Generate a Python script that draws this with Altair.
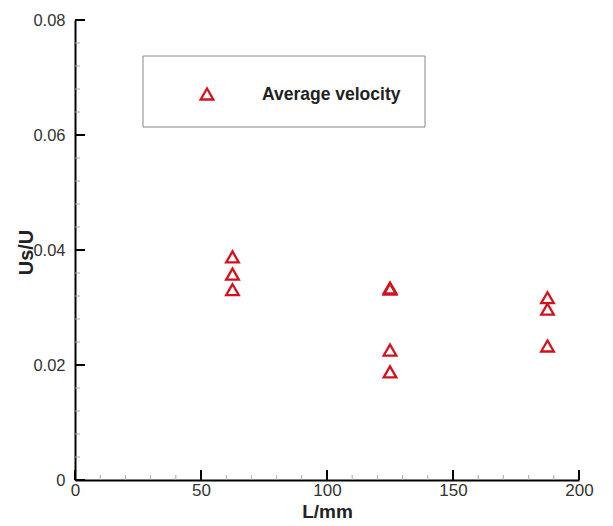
import altair as alt
import pandas as pd

# Measured average velocity ratio at three distances
L_mm = [62.5, 62.5, 62.5, 125, 125, 125, 125, 187.5, 187.5, 187.5]
us_u = [0.0388, 0.0358, 0.0331, 0.0334, 0.0332, 0.0226, 0.0188, 0.0317, 0.0297, 0.0233]

# Axis tick positions
x_major = [0, 50, 100, 150, 200]
x_minor = [v for v in range(0, 201, 10) if v % 50 != 0]
y_major = [0, 0.02, 0.04, 0.06, 0.08]
y_minor = [round(i * 0.004, 3) for i in range(21) if i % 5 != 0]

RED = "#d4121e"
FONT = "Liberation Sans"
W, H = 504, 460

df = pd.DataFrame({"L": L_mm, "U": us_u})
xs = alt.Scale(domain=[0, 200], nice=False, zero=False)
ys = alt.Scale(domain=[0, 0.08], nice=False, zero=False)

x_axis = alt.Axis(values=x_major, ticks=False, grid=False, domainColor="black",
                  domainWidth=2, labelFont=FONT, labelFontSize=17, labelColor="#333",
                  labelPadding=2, labelFlush=False, title="L/mm", titleFont=FONT,
                  titleFontSize=19, titleFontWeight="bold", titleColor="#222",
                  titlePadding=4)
y_axis = alt.Axis(values=y_major, ticks=False, grid=False, domainColor="black",
                  domainWidth=2, labelFont=FONT, labelFontSize=16.5, labelColor="#333",
                  labelPadding=10, labelFlush=False, format="~g", labelBaseline="middle",
                  title="Us/U", titleFont=FONT, titleFontSize=20, titleFontWeight="bold",
                  titleColor="#222", titleX=-49, titleY=232, titleBaseline="middle")

points = alt.Chart(df).mark_point(shape="triangle-up", filled=False, color=RED,
                                  opacity=1, strokeWidth=2.3, size=160).encode(
    x=alt.X("L:Q", scale=xs, axis=x_axis),
    y=alt.Y("U:Q", scale=ys, axis=y_axis),
)

# Inward-pointing ticks
xmaj = alt.Chart(pd.DataFrame({"v": x_major})).mark_rule(color="black", strokeWidth=2).encode(
    x=alt.X("v:Q", scale=xs), y=alt.value(H), y2=alt.value(H - 10))
xmin = alt.Chart(pd.DataFrame({"v": x_minor})).mark_rule(color="#aaa", strokeWidth=1).encode(
    x=alt.X("v:Q", scale=xs), y=alt.value(H), y2=alt.value(H - 5))
ymaj = alt.Chart(pd.DataFrame({"v": y_major})).mark_rule(color="black", strokeWidth=2).encode(
    y=alt.Y("v:Q", scale=ys), x=alt.value(0), x2=alt.value(10))
ymin = alt.Chart(pd.DataFrame({"v": y_minor})).mark_rule(color="#aaa", strokeWidth=1).encode(
    y=alt.Y("v:Q", scale=ys), x=alt.value(0), x2=alt.value(5))

# Legend box
legend_box = alt.Chart(pd.DataFrame({"a": [0]})).mark_rect(
    fill="white", stroke="#888", strokeWidth=1).encode(
    x=alt.value(68), x2=alt.value(350), y=alt.value(36), y2=alt.value(107))
legend_sym = alt.Chart(pd.DataFrame({"a": [0]})).mark_point(
    shape="triangle-up", filled=False, color=RED, opacity=1, strokeWidth=2.3,
    size=160).encode(x=alt.value(132), y=alt.value(74))
legend_txt = alt.Chart(pd.DataFrame({"t": ["Average velocity"]})).mark_text(
    align="left", baseline="middle", font=FONT, fontSize=17.5, fontWeight="bold",
    color="#222").encode(x=alt.value(187), y=alt.value(75), text="t:N")

chart = alt.layer(xmin, ymin, xmaj, ymaj, legend_box, legend_sym, legend_txt, points).properties(
    width=W, height=H,
    padding={"left": 75, "top": 20, "right": 34, "bottom": 46},
    autosize=alt.AutoSizeParams(type="none"),
    background="white",
).configure_view(stroke=None)

chart.save("out.html", embed_options={"renderer": "svg", "actions": False})
